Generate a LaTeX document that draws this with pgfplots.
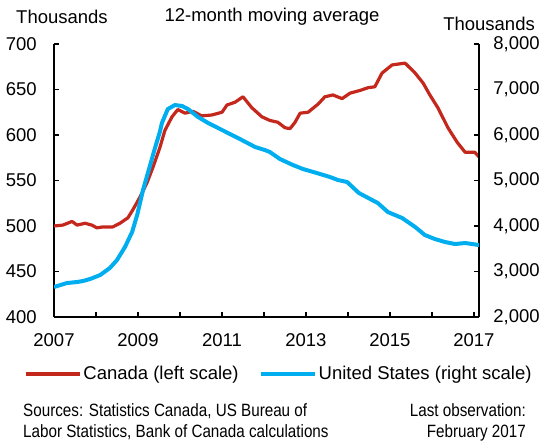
\documentclass[border=0pt]{standalone}
\usepackage{fontspec}
\setmainfont{Liberation Sans}
\newfontfamily\narrowfont{Liberation Sans}[FakeStretch=0.855]
\usepackage{pgfplots}
\pgfplotsset{compat=1.18}
\definecolor{cadred}{HTML}{C4281C}
\definecolor{usblue}{HTML}{00AEEF}

\begin{document}
\fontsize{18.5}{22}\selectfont
\begin{tikzpicture}
\path[use as bounding box] (0pt,0pt) rectangle (548pt,-441pt);
\pgfplotsset{
  common/.style={
    scale only axis, width=425pt, height=273pt,
    at={(54pt,-317pt)}, anchor=south west,
    xmin=2007, xmax=2017.12,
    xtick={2007,...,2017},
    axis line style={line width=1.3pt, -},
    major tick length=5pt,
    tick style={line width=1.3pt, black},
    tick align=inside,
    /pgf/number format/assume math mode=true,
    ticklabel style={font=\fontsize{18.5}{22}\selectfont},
  }
}
% Canada, left scale
\begin{axis}[common,
  axis x line*=bottom, axis y line*=left,
  ymin=400, ymax=700, ytick={400,450,...,700},
  xticklabels={2007,,2009,,2011,,2013,,2015,,2017},
  xticklabel style={yshift=-10pt},
  yticklabel style={xshift=-11pt},
]
\addplot[cadred, line width=3.2pt, line join=round] coordinates {
(2007.00,500)(2007.21,501)(2007.43,505)(2007.55,501)(2007.74,503)(2007.90,501)
(2008.02,498)(2008.17,499)(2008.40,499)(2008.57,503)(2008.76,509)(2008.88,518)
(2009.05,532)(2009.21,547)(2009.36,565)(2009.52,586)(2009.64,605)(2009.81,620)
(2009.95,628)(2010.12,624)(2010.31,626)(2010.52,621)(2010.76,622)(2011.00,625)
(2011.12,633)(2011.31,636)(2011.50,642)(2011.71,630)(2011.95,620)(2012.14,616)
(2012.33,614)(2012.50,608)(2012.62,607)(2012.74,614)(2012.86,624)(2013.05,625)
(2013.29,634)(2013.45,642)(2013.64,644)(2013.86,640)(2014.05,646)(2014.29,649)
(2014.48,652)(2014.64,653)(2014.81,668)(2015.05,677)(2015.36,679)(2015.60,668)
(2015.79,657)(2015.95,644)(2016.14,630)(2016.38,608)(2016.60,592)(2016.79,581)
(2017.02,581)(2017.12,576)
};
\end{axis}
% United States, right scale
\begin{axis}[common,
  axis x line=none, axis y line*=right,
  ymin=2000, ymax=8000, ytick={2000,3000,...,8000},
  yticklabel style={xshift=8pt},
  legend columns=2,
  legend style={draw=none, fill=none, inner sep=0pt,
    at={(-0.0706,-0.209)}, anchor=west,
    font=\fontsize{18.5}{22}\selectfont,
    /tikz/every even column/.append style={column sep=18pt}},
  legend image code/.code={\draw[#1] (0pt,0pt) -- (54pt,0pt);},
]
\addlegendimage{cadred, line width=3.2pt}
\addlegendentry{Canada (left scale)}
\addplot[usblue, line width=4pt, line join=round] coordinates {
(2007.00,2659)(2007.31,2747)(2007.55,2769)(2007.69,2791)(2007.86,2835)(2008.10,2923)
(2008.33,3077)(2008.50,3252)(2008.69,3538)(2008.86,3868)(2008.98,4241)(2009.12,4791)
(2009.29,5340)(2009.40,5700)(2009.52,6066)(2009.57,6264)(2009.71,6571)(2009.88,6659)
(2010.05,6637)(2010.19,6571)(2010.43,6396)(2010.67,6264)(2011.00,6110)(2011.38,5934)
(2011.79,5736)(2012.02,5670)(2012.14,5626)(2012.38,5472)(2012.69,5340)(2012.93,5252)
(2013.26,5164)(2013.57,5077)(2013.76,5011)(2013.98,4967)(2014.26,4725)(2014.71,4505)
(2014.95,4307)(2015.29,4175)(2015.60,3978)(2015.83,3802)(2016.07,3714)(2016.31,3648)
(2016.55,3604)(2016.79,3626)(2017.12,3582)
};
\addlegendentry{United States (right scale)}
\end{axis}
\node[anchor=west, inner sep=0pt] at (16pt,-16.5pt) {Thousands};
\node[inner sep=0pt] at (272pt,-16.5pt) {12-month moving average};
\node[anchor=east, inner sep=0pt] at (535pt,-23.5pt) {Thousands};
\node[anchor=west, inner sep=0pt, align=left,
  font=\narrowfont\fontsize{17.8}{21}\selectfont] at (23pt,-422pt)
  {Sources: Statistics Canada, US Bureau of\\Labor Statistics, Bank of Canada calculations};
\node[anchor=east, inner sep=0pt, align=right,
  font=\narrowfont\fontsize{17.8}{21}\selectfont] at (526pt,-422pt)
  {Last observation:\\February 2017};
\end{tikzpicture}
\end{document}
